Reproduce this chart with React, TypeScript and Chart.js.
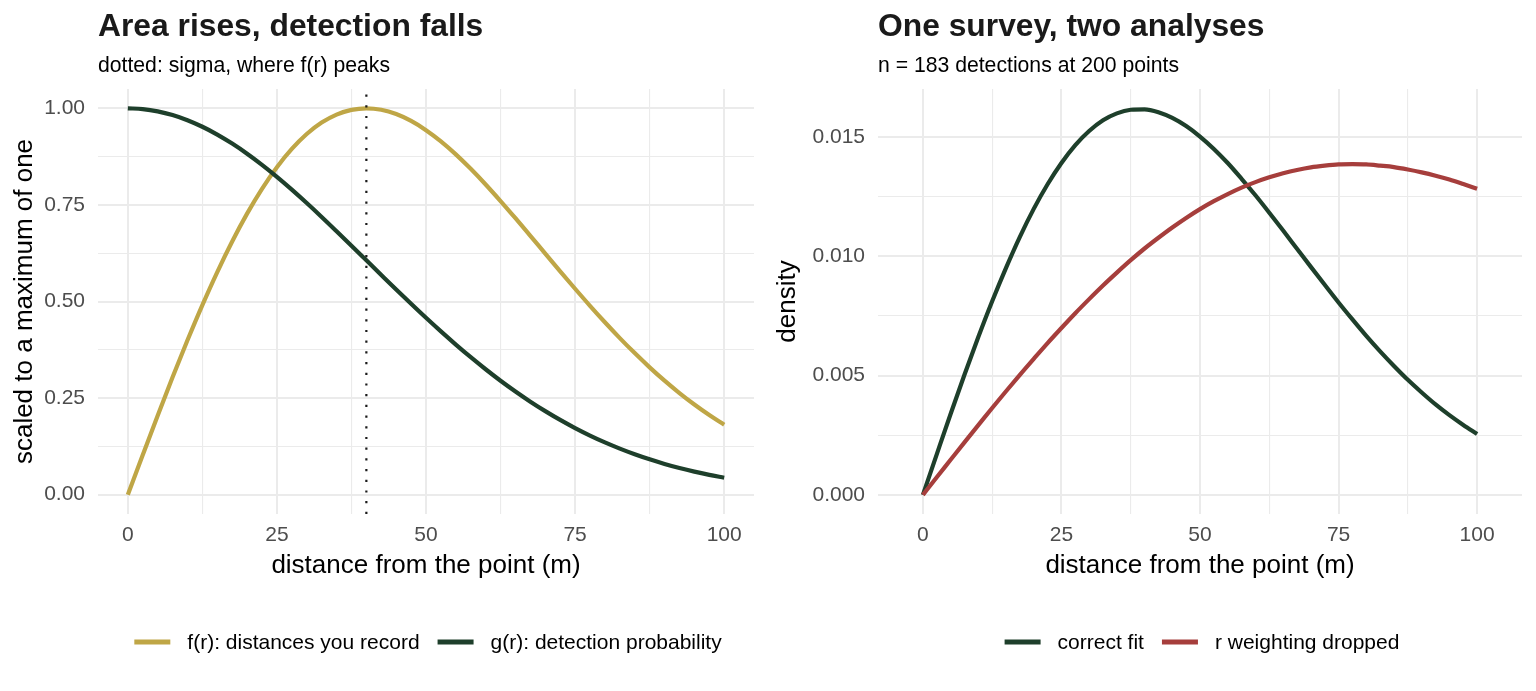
import React, { useEffect, useRef } from 'react';
import { Chart, registerables } from 'chart.js';

Chart.register(...registerables);

const FONT = "'Liberation Sans', Arial, Helvetica, sans-serif";
Chart.defaults.font.family = FONT;

// Distance from the point (m), sampled every 2.5 m
const DISTANCE_M = [
  0, 2.5, 5, 7.5, 10, 12.5, 15, 17.5, 20, 22.5, 25, 27.5, 30, 32.5, 35, 37.5, 40,
  42.5, 45, 47.5, 50, 52.5, 55, 57.5, 60, 62.5, 65, 67.5, 70, 72.5, 75, 77.5, 80,
  82.5, 85, 87.5, 90, 92.5, 95, 97.5, 100,
];

// Left panel: both curves scaled to a maximum of one
const F_RECORDED = [
  0, 0.1028, 0.2045, 0.3037, 0.3995, 0.4907, 0.5763, 0.6555, 0.7275, 0.7917, 0.8476,
  0.8949, 0.9334, 0.963, 0.9838, 0.996, 1.0, 0.9962, 0.9851, 0.9673, 0.9435, 0.9145,
  0.8809, 0.8434, 0.8029, 0.76, 0.7155, 0.6699, 0.624, 0.5782, 0.533, 0.4889, 0.4463,
  0.4053, 0.3664, 0.3296, 0.2951, 0.263, 0.2333, 0.206, 0.1811,
];
const G_DETECT = [
  1.0, 0.998, 0.9922, 0.9826, 0.9692, 0.9523, 0.9321, 0.9087, 0.8825, 0.8537, 0.8226,
  0.7895, 0.7548, 0.7189, 0.6819, 0.6444, 0.6065, 0.5687, 0.5311, 0.4941, 0.4578,
  0.4226, 0.3886, 0.3559, 0.3247, 0.295, 0.2671, 0.2408, 0.2163, 0.1935, 0.1724,
  0.1531, 0.1353, 0.1192, 0.1046, 0.0914, 0.0796, 0.069, 0.0596, 0.0513, 0.0439,
];
const SIGMA_M = 40;

// Right panel: fitted densities of detection distance
const DENSITY_CORRECT = [
  0, 0.0017, 0.00339, 0.00503, 0.00661, 0.00811, 0.00951, 0.01081, 0.01198, 0.01301,
  0.0139, 0.01465, 0.01524, 0.01569, 0.01598, 0.01613, 0.01615, 0.01603, 0.01579,
  0.01545, 0.01501, 0.01449, 0.0139, 0.01324, 0.01255, 0.01182, 0.01107, 0.01031,
  0.00955, 0.0088, 0.00806, 0.00735, 0.00666, 0.00601, 0.0054, 0.00482, 0.00429,
  0.00379, 0.00334, 0.00293, 0.00255,
];
const DENSITY_NO_R = [
  0, 0.00074, 0.00147, 0.0022, 0.00292, 0.00364, 0.00434, 0.00503, 0.0057, 0.00636,
  0.00699, 0.00761, 0.0082, 0.00877, 0.00931, 0.00983, 0.01032, 0.01077, 0.0112,
  0.0116, 0.01197, 0.0123, 0.0126, 0.01287, 0.0131, 0.0133, 0.01347, 0.01361,
  0.01372, 0.01379, 0.01384, 0.01385, 0.01384, 0.01379, 0.01373, 0.01363, 0.01351,
  0.01337, 0.01321, 0.01302, 0.01282,
];

// Axis breaks (labelled); minor grid lines fall halfway between them
const X_BREAKS = [0, 25, 50, 75, 100];
const LEFT_Y_BREAKS = [0, 0.25, 0.5, 0.75, 1];
const RIGHT_Y_BREAKS = [0, 0.005, 0.01, 0.015];

const LEFT_X_LIMITS = [-5, 105];
const LEFT_Y_LIMITS = [-0.05, 1.05];
const RIGHT_X_LIMITS = [-8.1, 108.1];
const RIGHT_Y_LIMITS = [-0.0008, 0.017];

const GOLD = '#BFA646';
const GREEN = '#1E3F2B';
const RED = '#A63E3C';
const GRID = '#EBEBEB';
const TICK_TEXT = '#4D4D4D';

const withMinor = (breaks: number[]) => {
  const out: number[] = [];
  breaks.forEach((b, i) => {
    out.push(b);
    if (i < breaks.length - 1) out.push((b + breaks[i + 1]) / 2);
  });
  return out;
};

const isBreak = (breaks: number[], v: number) =>
  breaks.some((b) => Math.abs(b - v) < 1e-9);

const toPoints = (ys: number[]) => DISTANCE_M.map((x, i) => ({ x, y: ys[i] }));

// Title, subtitle and a bottom legend, all aligned to the plotting panel
const headingPlugin = {
  id: 'heading',
  afterDraw(chart: any, _args: any, opts: any) {
    const { ctx, chartArea } = chart;
    ctx.save();
    ctx.textAlign = 'left';
    ctx.textBaseline = 'alphabetic';
    ctx.fillStyle = '#1A1A1A';
    ctx.font = `bold 31.8px ${FONT}`;
    ctx.fillText(opts.title, chartArea.left, 35.5);
    ctx.fillStyle = '#000000';
    ctx.font = `21.2px ${FONT}`;
    ctx.fillText(opts.subtitle, chartArea.left, 72);

    const items: { label: string; color: string }[] = opts.legend;
    ctx.font = `21px ${FONT}`;
    const keyW = 36;
    const keyGap = 17;
    const itemGap = 18;
    const widths = items.map((it) => ctx.measureText(it.label).width);
    const total =
      widths.reduce((a, w) => a + keyW + keyGap + w, 0) + itemGap * (items.length - 1);
    let x = (chartArea.left + chartArea.right) / 2 + 2 - total / 2;
    const y = 642;
    ctx.textBaseline = 'middle';
    items.forEach((it, i) => {
      ctx.fillStyle = it.color;
      ctx.fillRect(x, y - 2.5, keyW, 5);
      x += keyW + keyGap;
      ctx.fillStyle = '#000000';
      ctx.fillText(it.label, x, y + 1);
      x += widths[i] + itemGap;
    });
    ctx.restore();
  },
};

const makeScales = (
  xLimits: number[],
  yLimits: number[],
  yBreaks: number[],
  yDigits: number,
  yTitle: string,
  yAxisWidth: number,
  yTitleOffset: number
) => {
  const xTicks = withMinor(X_BREAKS);
  const yTicks = withMinor(yBreaks);
  const grid = (breaks: number[]) => ({
    color: GRID,
    drawTicks: false,
    lineWidth: (c: any) => (c.tick && isBreak(breaks, c.tick.value) ? 2 : 1.1),
  });
  return {
    x: {
      type: 'linear',
      min: xLimits[0],
      max: xLimits[1],
      afterBuildTicks: (s: any) => {
        s.ticks = xTicks.map((value) => ({ value }));
      },
      afterFit: (s: any) => {
        s.height = 72;
      },
      grid: grid(X_BREAKS),
      border: { display: false },
      ticks: {
        autoSkip: false,
        maxRotation: 0,
        padding: 9,
        color: TICK_TEXT,
        font: { size: 21 },
        callback: (v: number) => (isBreak(X_BREAKS, v) ? String(Math.round(v)) : ''),
      },
      title: {
        display: true,
        text: 'distance from the point (m)',
        color: '#000000',
        font: { size: 26 },
        padding: { top: 0, bottom: 5 },
      },
    },
    y: {
      type: 'linear',
      min: yLimits[0],
      max: yLimits[1],
      afterBuildTicks: (s: any) => {
        s.ticks = yTicks.map((value) => ({ value }));
      },
      afterFit: (s: any) => {
        s.width = yAxisWidth;
      },
      grid: grid(yBreaks),
      border: { display: false },
      ticks: {
        autoSkip: false,
        padding: 13,
        color: TICK_TEXT,
        font: { size: 21 },
        callback: (v: number) => (isBreak(yBreaks, v) ? v.toFixed(yDigits) : ''),
      },
      title: {
        display: true,
        text: yTitle,
        color: '#000000',
        font: { size: 26 },
        padding: { top: yTitleOffset, bottom: 0 },
      },
    },
  };
};

const curve = (label: string, ys: number[], color: string) => ({
  label,
  data: toPoints(ys),
  borderColor: color,
  backgroundColor: color,
  borderWidth: 4.2,
  pointRadius: 0,
  fill: false,
  cubicInterpolationMode: 'monotone',
  borderJoinStyle: 'round',
});

const leftConfig = (): any => ({
  type: 'line',
  data: {
    datasets: [
      {
        label: 'sigma',
        data: [
          { x: SIGMA_M, y: LEFT_Y_LIMITS[0] },
          { x: SIGMA_M, y: LEFT_Y_LIMITS[1] },
        ],
        borderColor: '#1A1A1A',
        borderWidth: 2.2,
        borderDash: [2.2, 8.5],
        borderCapStyle: 'butt',
        pointRadius: 0,
        fill: false,
      },
      curve('g(r): detection probability', G_DETECT, GREEN),
      curve('f(r): distances you record', F_RECORDED, GOLD),
    ],
  },
  options: {
    animation: false,
    responsive: false,
    events: [],
    layout: { padding: { top: 89, right: 14, bottom: 105, left: 0 } },
    plugins: {
      legend: { display: false },
      tooltip: { enabled: false },
      heading: {
        title: 'Area rises, detection falls',
        subtitle: 'dotted: sigma, where f(r) peaks',
        legend: [
          { label: 'f(r): distances you record', color: GOLD },
          { label: 'g(r): detection probability', color: GREEN },
        ],
      },
    },
    scales: makeScales(LEFT_X_LIMITS, LEFT_Y_LIMITS, LEFT_Y_BREAKS, 2, 'scaled to a maximum of one', 98, 9),
  },
  plugins: [headingPlugin],
});

const rightConfig = (): any => ({
  type: 'line',
  data: {
    datasets: [
      curve('r weighting dropped', DENSITY_NO_R, RED),
      curve('correct fit', DENSITY_CORRECT, GREEN),
    ],
  },
  options: {
    animation: false,
    responsive: false,
    events: [],
    layout: { padding: { top: 89, right: 14, bottom: 105, left: 0 } },
    plugins: {
      legend: { display: false },
      tooltip: { enabled: false },
      heading: {
        title: 'One survey, two analyses',
        subtitle: 'n = 183 detections at 200 points',
        legend: [
          { label: 'correct fit', color: GREEN },
          { label: 'r weighting dropped', color: RED },
        ],
      },
    },
    scales: makeScales(RIGHT_X_LIMITS, RIGHT_Y_LIMITS, RIGHT_Y_BREAKS, 3, 'density', 110, 4),
  },
  plugins: [headingPlugin],
});

function Panel({ left, makeConfig }: { left: number; makeConfig: () => any }) {
  const ref = useRef<HTMLCanvasElement | null>(null);
  useEffect(() => {
    if (!ref.current) return;
    const chart = new Chart(ref.current, makeConfig());
    return () => chart.destroy();
  }, [makeConfig]);
  return (
    <div style={{ position: 'absolute', left, top: 0, width: 768, height: 691 }}>
      <canvas ref={ref} width={768} height={691} style={{ display: 'block' }} />
    </div>
  );
}

export default function App() {
  return (
    <div
      style={{
        position: 'absolute',
        left: 0,
        top: 0,
        width: 1536,
        height: 691,
        background: '#FFFFFF',
        overflow: 'hidden',
      }}
    >
      <Panel left={0} makeConfig={leftConfig} />
      <Panel left={768} makeConfig={rightConfig} />
    </div>
  );
}
